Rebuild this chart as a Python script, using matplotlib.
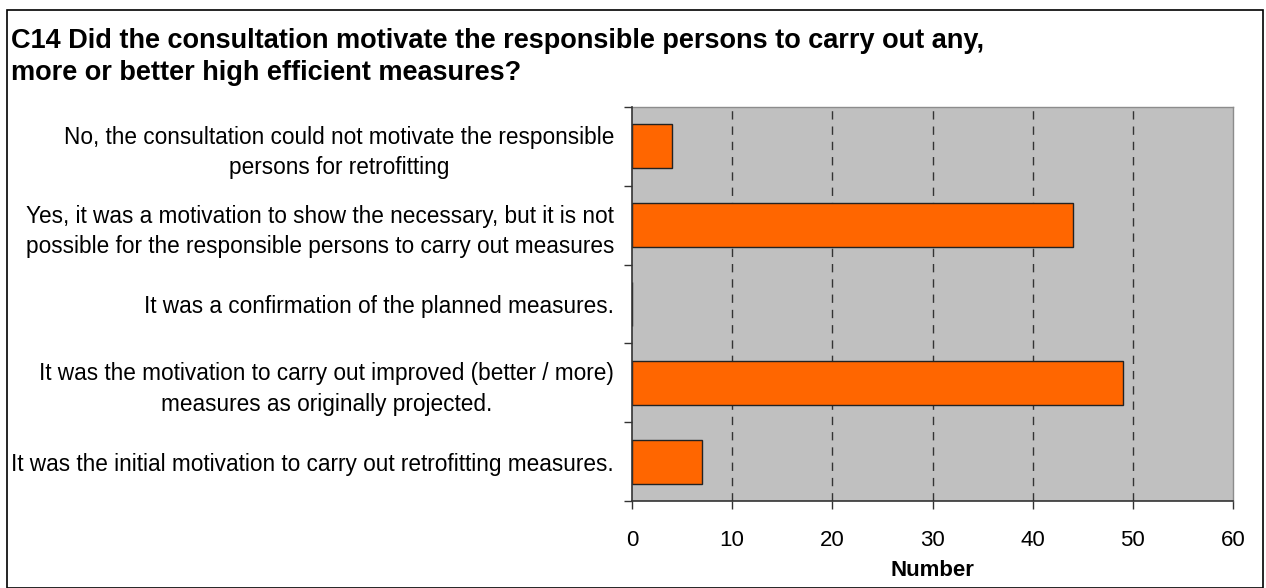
import matplotlib
matplotlib.use("Agg")
import matplotlib.pyplot as plt
from matplotlib.patches import Rectangle

plt.rcParams['font.family'] = ['Liberation Sans', 'DejaVu Sans']

title = ("C14 Did the consultation motivate the responsible persons to carry out any,\n"
         "more or better high efficient measures?")
categories = [
    "No, the consultation could not motivate the responsible\npersons for retrofitting",
    "Yes, it was a motivation to show the necessary, but it is not\npossible for the responsible persons to carry out measures",
    "It was a confirmation of the planned measures.",
    "It was the motivation to carry out improved (better / more)\nmeasures as originally projected.",
    "It was the initial motivation to carry out retrofitting measures.",
]
values = [4, 44, 0, 49, 7]
xticks = [0, 10, 20, 30, 40, 50, 60]
xlabel = "Number"

W, H = 1266, 588
fig = plt.figure(figsize=(W / 100, H / 100), dpi=100)
fig.patch.set_facecolor('white')

# outer frame
fig.add_artist(Rectangle((7 / W, 0.5 / H), (1256 / W), (578 / H), transform=fig.transFigure,
                         fill=False, edgecolor='black', linewidth=1.2))

fig.text(11 / W, 1 - 57 / H, title, fontsize=19.5, fontweight='bold',
         ha='left', va='center', linespacing=1.3)

left, right, top, bottom = 632, 1233, 107, 501
ax = fig.add_axes([left / W, 1 - bottom / H, (right - left) / W, (bottom - top) / H])
ax.set_facecolor('#C0C0C0')

n = len(categories)
ypos = list(range(n))
ax.barh(ypos, values, height=0.56, color='#FF6600', edgecolor='#222222', linewidth=1.0, zorder=3)
ax.set_ylim(n - 0.5, -0.5)
ax.set_xlim(0, 60)

ax.set_xticks(xticks)
ax.set_xticklabels([str(t) for t in xticks], fontsize=16)
ax.set_yticks(ypos)
ax.set_yticklabels(categories, fontsize=16.3, linespacing=1.4)
ax.tick_params(axis='y', which='major', length=0, pad=13)
ax.set_yticks([i - 0.5 for i in range(n + 1)], minor=True)
ax.tick_params(axis='y', which='minor', length=6, width=1, color='#333333')
ax.tick_params(axis='x', length=6, width=1, color='#333333', pad=15)
for lbl in ax.get_yticklabels():
    lbl.set_horizontalalignment('right')
    lbl.set_multialignment('center')

for t in xticks[1:-1]:
    ax.axvline(t, color='#333333', linestyle=(0, (6, 5)), linewidth=1, zorder=2)

for side in ['top', 'right']:
    ax.spines[side].set_color('#8C8C8C')
    ax.spines[side].set_linewidth(1)
for side in ['left', 'bottom']:
    ax.spines[side].set_color('#333333')
    ax.spines[side].set_linewidth(1.2)
    ax.spines[side].set_zorder(4)

ax.set_xlabel(xlabel, fontsize=16, fontweight='bold', labelpad=6)

fig.savefig('out.png', dpi=100, facecolor='white')
